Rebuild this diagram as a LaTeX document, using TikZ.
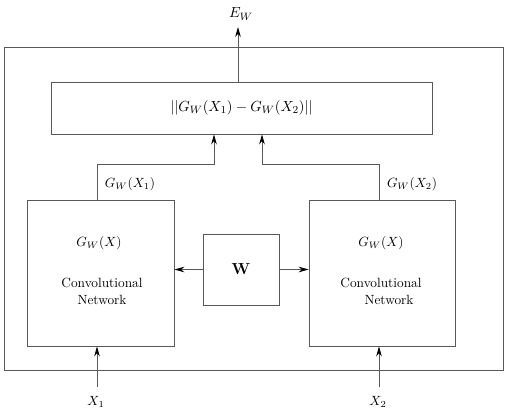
\documentclass[tikz,border=0pt]{standalone}
\usetikzlibrary{arrows.meta}
\begin{document}
\begin{tikzpicture}[x=0.75pt,y=-0.75pt,
  box/.style={draw=black!65,line width=0.6pt},
  conn/.style={draw=black!65,line width=0.6pt},
  arr/.style={conn,-{Stealth[length=7.5pt,width=4.2pt,black]}},
  lbl/.style={inner sep=0pt},
  big/.style={font=\fontsize{11}{13}\selectfont}]
\useasboundingbox (0,0) rectangle (513,412);
% outer box
\draw[box] (4,47) rectangle (503,370);
% distance box
\node[box,big,minimum width=381*0.75pt,minimum height=52*0.75pt,inner sep=0pt] (dist) at (241.5,108) {$||G_W(X_1)-G_W(X_2)||$};
% conv nets
\node[box,minimum width=147*0.75pt,minimum height=146*0.75pt,inner sep=0pt] (L) at (100.5,273) {};
\node[box,minimum width=146*0.75pt,minimum height=146*0.75pt,inner sep=0pt] (R) at (382,273) {};
\node[box,minimum width=76*0.75pt,minimum height=71*0.75pt,inner sep=0pt] (Wb) at (241,269.5) {\large$\mathbf{W}$};
\node[lbl] (Lg) at (99,243) {$G_W(X)$};
\node[lbl] (Lc) at (102,283) {Convolutional};
\node[lbl] (Ln) at (102,300) {Network};
\node[lbl] (Rg) at (381,243) {$G_W(X)$};
\node[lbl] (Rc) at (381,283) {Convolutional};
\node[lbl] (Rn) at (389,300) {Network};
% W arrows
\draw[arr] (Wb.west) -- (L.east |- Wb.west);
\draw[arr] (Wb.east) -- (R.west |- Wb.east);
% outputs to distance
\coordinate (l1) at (97,164);
\coordinate (l2) at (214,164);
\coordinate (r1) at (379,164);
\coordinate (r2) at (262,164);
\draw[arr] (L.north -| l1) -- (l1) -- (l2) -- (l2 |- dist.south);
\draw[arr] (R.north -| r1) -- (r1) -- (r2) -- (r2 |- dist.south);
\node[lbl] (g1) at (130,184) {$G_W(X_1)$};
\node[lbl] (g2) at (412,184) {$G_W(X_2)$};
% energy output
\node[lbl,big] (E) at (241,14) {$E_W$};
\coordinate (etop) at (238,27);
\draw[arr] (dist.north -| etop) -- (etop);
% inputs
\node[lbl] (x1) at (96,402) {$X_1$};
\node[lbl] (x2) at (378,402) {$X_2$};
\coordinate (x1s) at (97,387);
\coordinate (x2s) at (379,387);
\draw[arr] (x1s) -- (x1s |- L.south);
\draw[arr] (x2s) -- (x2s |- R.south);
\end{tikzpicture}
\end{document}
